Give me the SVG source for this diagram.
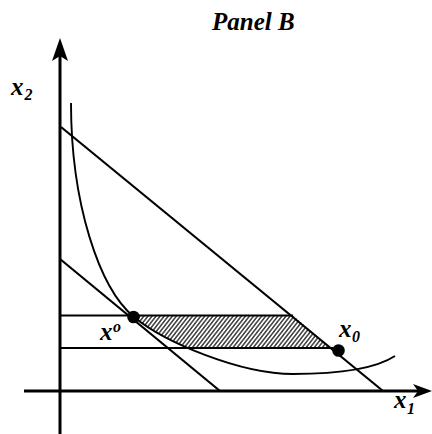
<svg xmlns="http://www.w3.org/2000/svg" width="432" height="434" viewBox="0 0 432 434">
<style>
.ax{stroke:#000;stroke-width:3;fill:none}
.ln{stroke:#000;stroke-width:2.2;fill:none;stroke-linecap:butt}
.cv{stroke:#000;stroke-width:1.9;fill:none}
.lbl{font-family:"Liberation Serif","Times New Roman",serif;font-style:italic;font-weight:bold;fill:#000}
.big{font-size:25px}
.sub{font-size:16px}
.title{font-family:"Liberation Serif","Times New Roman",serif;font-style:italic;font-weight:bold;font-size:25px;fill:#000}
</style>
<defs>
<pattern id="hatch" width="3.2" height="3.2" patternUnits="userSpaceOnUse" patternTransform="rotate(38)">
<line x1="0.8" y1="0" x2="0.8" y2="3.2" stroke="#000" stroke-width="1.15"/>
</pattern>
</defs>
<rect width="432" height="434" fill="#fff"/>
<text class="title" x="212" y="30">Panel B</text>
<g id="shaded">
<path d="M134,315.5 L293,315.5 L331,348 L187.7,348 C165.4,338.1 146,327 134,317 Z" fill="url(#hatch)"/>
</g>
<g id="axes">
<line class="ax" x1="60" y1="52" x2="60" y2="434"/>
<path d="M60,38 L68,61 L60,56 L52,61 Z" fill="#000"/>
<line class="ax" x1="24" y1="391" x2="420" y2="391"/>
<path d="M432,391 L413,384 L418,391 L413,398 Z" fill="#000"/>
</g>
<g id="lines">
<line class="ln" x1="61" y1="127" x2="383" y2="391"/>
<line class="ln" x1="60" y1="259" x2="220" y2="391"/>
<line class="ln" x1="60" y1="315.5" x2="293" y2="315.5"/>
<line class="ln" x1="60" y1="348" x2="333" y2="348"/>
</g>
<g id="curve">
<path class="cv" d="M71,103 C71,203 99,288 134,317 C164,342 240,374 293,374 C335,374 375,369 395,356"/>
</g>
<g id="points">
<circle cx="133.5" cy="317" r="6.3" fill="#000"/>
<circle cx="338.5" cy="350.5" r="6.3" fill="#000"/>
</g>
<g id="labels">
<text class="lbl big" x="11" y="95">x</text><text class="lbl sub" x="24.5" y="100">2</text>
<text class="lbl big" x="394" y="408">x</text><text class="lbl sub" x="407" y="414">1</text>
<text class="lbl big" x="339" y="337">x</text><text class="lbl sub" x="352" y="342">0</text>
<text class="lbl big" x="100" y="340">x</text><text class="lbl sub" x="113" y="332">o</text>
</g>
</svg>
